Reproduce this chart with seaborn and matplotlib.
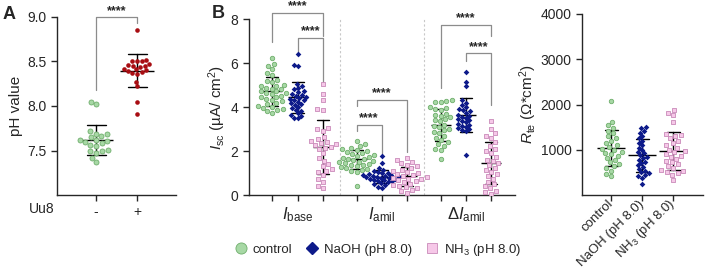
import numpy as np
import pandas as pd
import matplotlib
matplotlib.use("Agg")
import matplotlib.pyplot as plt
from matplotlib.lines import Line2D
import seaborn as sns

# ---- panel A: pH, Uu8 - / +
ph_minus = [8.02, 8.05, 7.72, 7.69, 7.68, 7.66, 7.65, 7.62, 7.62, 7.61, 7.60,
            7.58, 7.56, 7.55, 7.51, 7.50, 7.49, 7.47, 7.42, 7.37]
ph_plus = [8.85, 8.52, 8.51, 8.50, 8.50, 8.47, 8.46, 8.45, 8.45, 8.44, 8.42,
           8.41, 8.40, 8.39, 8.38, 8.37, 8.36, 8.27, 8.22, 8.04, 7.91]
uu8_labels = ["-", "+"]

# ---- panel B: Isc (uA/cm2)
groups = ["base", "amil", "damil"]
group_labels = [r"$I_{\mathrm{base}}$", r"$I_{\mathrm{amil}}$", r"Δ$I_{\mathrm{amil}}$"]
treatments = ["control", "NaOH (pH 8.0)", "NH$_3$ (pH 8.0)"]

base_ctrl = [6.22, 5.95, 5.88, 5.72, 5.55, 5.48, 5.21, 5.18, 5.12, 5.02, 4.98, 4.96,
             4.88, 4.83, 4.80, 4.74, 4.71, 4.66, 4.62, 4.58, 4.51, 4.47, 4.44, 4.36,
             4.31, 4.27, 4.19, 4.12, 4.06, 4.02, 3.97, 3.92, 3.86, 3.81, 3.74]
base_naoh = [6.40, 5.90, 5.86, 5.05, 4.95, 4.88, 4.80, 4.72, 4.68, 4.60, 4.55, 4.50,
             4.46, 4.42, 4.38, 4.33, 4.30, 4.25, 4.20, 4.15, 4.10, 4.02, 3.95, 3.88,
             3.80, 3.72, 3.65, 3.58, 3.52, 3.48]
base_nh3 = [5.05, 4.60, 4.30, 3.92, 3.88, 3.05, 2.98, 2.90, 2.62, 2.55, 2.45, 2.40,
            2.35, 2.30, 2.28, 2.20, 2.15, 2.10, 1.90, 1.70, 1.55, 1.40, 1.30, 1.20,
            1.10, 1.05, 0.90, 0.75, 0.60, 0.40, 0.30]
amil_ctrl = [2.45, 2.30, 2.25, 2.15, 2.10, 2.05, 2.00, 1.95, 1.90, 1.88, 1.82, 1.78,
             1.72, 1.70, 1.66, 1.62, 1.60, 1.56, 1.52, 1.50, 1.45, 1.42, 1.38, 1.35,
             1.30, 1.26, 1.22, 1.18, 1.15, 1.10, 1.05, 0.40]
amil_naoh = [1.77, 1.45, 1.22, 1.15, 1.10, 1.05, 1.00, 0.98, 0.95, 0.92, 0.90, 0.88,
             0.86, 0.84, 0.82, 0.80, 0.78, 0.76, 0.74, 0.72, 0.70, 0.68, 0.65, 0.62,
             0.58, 0.55, 0.50, 0.45, 0.38, 0.33]
amil_nh3 = [1.70, 1.60, 1.52, 1.45, 1.38, 1.30, 1.22, 1.15, 1.10, 1.05, 1.00, 0.95,
            0.90, 0.86, 0.82, 0.78, 0.75, 0.72, 0.68, 0.62, 0.58, 0.52, 0.45, 0.40,
            0.35, 0.30, 0.25, 0.18, 0.10]
damil_ctrl = [4.30, 4.28, 4.25, 4.22, 4.00, 3.95, 3.90, 3.85, 3.70, 3.65, 3.60, 3.55,
              3.45, 3.40, 3.35, 3.20, 3.15, 3.10, 3.00, 2.95, 2.85, 2.80, 2.70, 2.60,
              2.50, 2.40, 2.30, 2.25, 2.10, 2.05, 1.65]
damil_naoh = [5.60, 5.15, 4.95, 4.30, 4.20, 4.10, 4.00, 3.90, 3.85, 3.80, 3.72, 3.65,
              3.60, 3.55, 3.50, 3.45, 3.40, 3.35, 3.30, 3.25, 3.20, 3.15, 3.10, 3.05,
              3.00, 2.95, 2.90, 1.80]
damil_nh3 = [3.35, 3.00, 2.80, 2.70, 2.60, 2.40, 2.25, 2.10, 2.00, 1.90, 1.75, 1.60,
             1.55, 1.45, 1.35, 1.25, 1.15, 1.05, 0.95, 0.85, 0.75, 0.60, 0.50, 0.40,
             0.30, 0.20, 0.12, 0.05]

# ---- panel C: Rte (Ohm*cm2)
rte_ctrl = [2080, 1620, 1540, 1480, 1420, 1360, 1300, 1260, 1200, 1150, 1100, 1060,
            1020, 1000, 960, 930, 900, 870, 820, 780, 720, 680, 640, 600, 540, 470, 420]
rte_naoh = [1510, 1490, 1420, 1380, 1300, 1250, 1200, 1150, 1100, 1050, 1000, 960,
            920, 880, 850, 820, 780, 740, 700, 660, 620, 580, 540, 500, 480, 450, 420,
            380, 250]
rte_nh3 = [1880, 1820, 1760, 1620, 1350, 1320, 1300, 1250, 1200, 1150, 1100, 1050,
           1000, 970, 940, 900, 870, 840, 800, 760, 720, 680, 640, 600, 550, 520, 500,
           480, 450, 330]

# significance brackets: (x1, x2, bar height, left leg end, right leg end)
brackets_a = [(0, 1, 9.0, 8.18, 8.93)]
brackets_b = [(-0.3, 0.3, 8.3, 6.95, 7.25), (0.0, 0.3, 7.14, 6.45, 5.14),
              (0.7, 1.3, 4.32, 4.05, 1.95), (0.7, 1.0, 3.2, 2.9, 1.82),
              (1.7, 2.3, 7.73, 4.86, 7.25), (2.0, 2.3, 6.45, 6.1, 4.1)]

GREEN_FACE, GREEN_EDGE = "#a7d8a5", "#6fae6c"
NAVY = "#0d1a8a"
PINK_FACE, PINK_EDGE = "#f6c8e8", "#c98ab9"
RED = "#a80d12"
styles = {
    "control": dict(marker="o", color=GREEN_FACE, edgecolor=GREEN_EDGE, linewidth=0.6, size=3.2),
    "NaOH (pH 8.0)": dict(marker="D", color=NAVY, linewidth=0, size=2.9),
    "NH$_3$ (pH 8.0)": dict(marker="s", color=PINK_FACE, edgecolor=PINK_EDGE, linewidth=0.6, size=3.4),
}

sns.set_style("ticks")
plt.rcParams["font.family"] = ["Liberation Sans", "DejaVu Sans"]
plt.rcParams["mathtext.fontset"] = "custom"
plt.rcParams["mathtext.rm"] = "Liberation Sans"
plt.rcParams["mathtext.it"] = "Liberation Sans:italic"
plt.rcParams["mathtext.bf"] = "Liberation Sans:bold"
plt.rcParams["font.size"] = 10
plt.rcParams["axes.linewidth"] = 1.0
plt.rcParams["xtick.major.width"] = 1.0
plt.rcParams["ytick.major.width"] = 1.0
plt.rcParams["xtick.major.size"] = 4
plt.rcParams["ytick.major.size"] = 4

fig = plt.figure(figsize=(7.05, 2.69), dpi=100)
ax_a = fig.add_axes([0.081, 0.275, 0.169, 0.662])
ax_b = fig.add_axes([0.353, 0.275, 0.377, 0.654])
ax_c = fig.add_axes([0.8255, 0.275, 0.172, 0.673])


def bracket(ax, x1, x2, y, yl, yr, text_pad):
    ax.plot([x1, x1, x2, x2], [yl, y, y, yr], color="#8c8c8c", lw=0.9, clip_on=False)
    ax.text((x1 + x2) / 2, y + text_pad, "****", ha="center", va="bottom",
            fontsize=9, fontweight="bold", clip_on=False)


mean_kws = dict(errorbar="sd", color="k", marker="_", linestyle="none",
                markeredgewidth=1.0, err_kws={"linewidth": 1.0})

# ---- A
df_a = pd.DataFrame({
    "uu8": ["-"] * len(ph_minus) + ["+"] * len(ph_plus),
    "ph": ph_minus + ph_plus,
})
sns.swarmplot(data=df_a[df_a.uu8 == "-"], x="uu8", y="ph", order=uu8_labels,
              color=GREEN_FACE, edgecolor=GREEN_EDGE, linewidth=0.6, size=3.6, ax=ax_a)
sns.swarmplot(data=df_a[df_a.uu8 == "+"], x="uu8", y="ph", order=uu8_labels,
              color=RED, linewidth=0, size=3.3, ax=ax_a)
sns.pointplot(data=df_a, x="uu8", y="ph", order=uu8_labels, capsize=0.46,
              markersize=25, ax=ax_a, **mean_kws)
ax_a.set_xlim(-0.95, 1.95)
ax_a.set_ylim(7.0, 9.0)
ax_a.set_yticks([7.5, 8.0, 8.5, 9.0])
ax_a.set_xlabel("")
ax_a.set_ylabel("pH value", fontsize=11, labelpad=3)
ax_a.text(-0.02, -0.04, "Uu8", transform=ax_a.transAxes, ha="right", va="top", fontsize=10)
for b in brackets_a:
    bracket(ax_a, *b, text_pad=0.0)

# ---- B
vals_b = {
    "base": [base_ctrl, base_naoh, base_nh3],
    "amil": [amil_ctrl, amil_naoh, amil_nh3],
    "damil": [damil_ctrl, damil_naoh, damil_nh3],
}
offsets = [-0.3, 0.0, 0.3]
rows = []
for gi, g in enumerate(groups):
    for ti, t in enumerate(treatments):
        for v in vals_b[g][ti]:
            rows.append({"group": g, "treat": t, "pos": gi + offsets[ti], "isc": v})
df_b = pd.DataFrame(rows)

for t in treatments:
    st = dict(styles[t])
    sns.swarmplot(data=df_b[df_b.treat == t], x="pos", y="isc", native_scale=True,
                  ax=ax_b, **st)
sns.pointplot(data=df_b, x="pos", y="isc", native_scale=True, capsize=0.48,
              markersize=14.5, ax=ax_b, **mean_kws)
for xs in [0.5, 1.5]:
    ax_b.axvline(xs, color="#c8c8c8", lw=0.8, ls=(0, (2, 2)), zorder=0)
ax_b.set_xlim(-0.58, 2.58)
ax_b.set_ylim(0, 8)
ax_b.set_yticks([0, 2, 4, 6, 8])
tick_pos = [gi + o for gi in range(3) for o in offsets]
tick_lab = [group_labels[gi] if o == 0 else "" for gi in range(3) for o in offsets]
ax_b.set_xticks(tick_pos)
ax_b.set_xticklabels(tick_lab, fontsize=12)
ax_b.set_xlabel("")
ax_b.set_ylabel(r"$I_{\mathrm{sc}}$ (µA/ cm$^2$)", fontsize=11, labelpad=2)
for b in brackets_b:
    bracket(ax_b, *b, text_pad=0.02)

# ---- C
df_c = pd.DataFrame({
    "treat": [treatments[0]] * len(rte_ctrl) + [treatments[1]] * len(rte_naoh)
             + [treatments[2]] * len(rte_nh3),
    "rte": rte_ctrl + rte_naoh + rte_nh3,
})
for t in treatments:
    st = dict(styles[t])
    sns.swarmplot(data=df_c[df_c.treat == t], x="treat", y="rte", order=treatments,
                  ax=ax_c, **st)
sns.pointplot(data=df_c, x="treat", y="rte", order=treatments, capsize=0.42,
              markersize=20, ax=ax_c, **mean_kws)
ax_c.set_xlim(-0.94, 2.97)
ax_c.set_ylim(0, 4000)
ax_c.set_yticks([1000, 2000, 3000, 4000])
ax_c.set_xticks(range(3))
ax_c.set_xticklabels(treatments, rotation=45, ha="right", va="center",
                     rotation_mode="anchor", fontsize=9.5)
ax_c.tick_params(axis="x", pad=1)
ax_c.set_xlabel("")
ax_c.set_ylabel(r"$R_{\mathrm{te}}$ (Ω*cm$^2$)", fontsize=11, labelpad=1)

for ax in (ax_a, ax_b, ax_c):
    sns.despine(ax=ax)

fig.text(0.004, 0.945, "A", fontsize=13, fontweight="bold", va="center")
fig.text(0.300, 0.950, "B", fontsize=13, fontweight="bold", va="center")

handles = [
    Line2D([], [], ls="none", marker="o", ms=8, mfc=GREEN_FACE, mec=GREEN_EDGE, mew=0.6),
    Line2D([], [], ls="none", marker="D", ms=6.5, mfc=NAVY, mec=NAVY),
    Line2D([], [], ls="none", marker="s", ms=7.5, mfc=PINK_FACE, mec=PINK_EDGE, mew=0.6),
]
fig.legend(handles, treatments, loc="center", bbox_to_anchor=(0.535, 0.072), ncol=3,
           frameon=False, fontsize=9.5, handletextpad=0.3, columnspacing=0.9,
           handlelength=1.2)

fig.savefig("out.png", dpi=100)
